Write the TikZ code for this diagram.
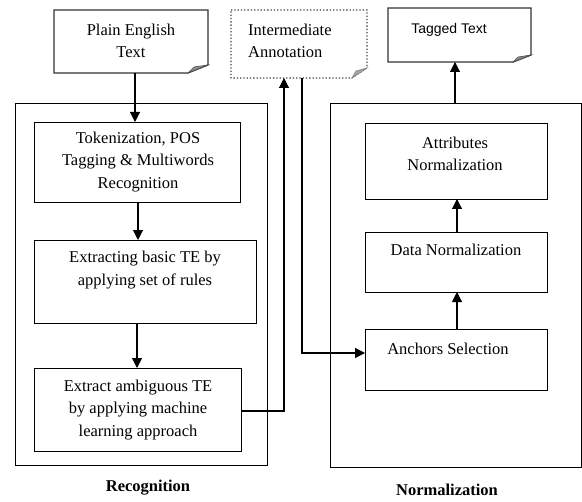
\documentclass[tikz,border=0pt]{standalone}
\usepackage{fontspec}
\setmainfont{Liberation Serif}
\newfontfamily\tagfont{Liberation Sans}
\usetikzlibrary{arrows.meta,positioning,calc}
\tikzset{
  box/.style={draw, line width=1.1bp, rectangle, inner sep=0pt},
  outer/.style={draw, line width=1.1bp, rectangle, inner sep=0pt},
  txt/.style={align=center, inner sep=0pt, font=\fontsize{16.5bp}{22.5bp}\selectfont},
  lbl/.style={inner sep=0pt, font=\fontsize{16.5bp}{22bp}\selectfont\bfseries},
  conn/.style={line width=1.1bp},
  arr/.style={line width=1.1bp, -{Triangle[length=10bp,width=10bp]}},
  doc/.style={line width=1.3bp, draw=black!80},
  fold/.style={fill=black!45, draw=black!70, line width=0.6bp}
}
\begin{document}
\begin{tikzpicture}[x=1bp,y=-1bp]
\useasboundingbox (0,0) rectangle (582,502);

% outer boxes
\node[outer, minimum width=252bp, minimum height=362bp, anchor=north west] (recog) at (15,103) {};
\node[outer, minimum width=251bp, minimum height=364bp, anchor=north west] (norm) at (330,103) {};
\node[lbl] (recoglbl) at (148,488) {Recognition};
\node[lbl] (normlbl) at (447,490) {Normalization};

% documents
\coordinate (pA) at (54,10);
\draw[doc] (54,10) -- (208,10) -- (208,65) -- (188,73) -- (54,73) -- cycle;
\draw[fold] (188,73) -- (194,67) -- (208,65) -- cycle;
\node[txt] (plain) at (131,41) {Plain English\\Text};
\coordinate (plainb) at (135,73);

\draw[doc, dotted, line width=1.1bp, draw=black!75] (231,10) -- (367,10) -- (367,68) -- (352,78) -- (231,78) -- cycle;
\draw[fold, draw=black!50, fill=black!35] (352,78) -- (356,71) -- (367,68) -- cycle;
\node[txt, align=left, anchor=west] (inter) at (248,41) {Intermediate\\Annotation};
\coordinate (interin) at (284,78);
\coordinate (interout) at (302,78);

\draw[doc] (388,8) -- (531,8) -- (531,55) -- (513,62) -- (388,62) -- cycle;
\draw[fold] (513,62) -- (518,57) -- (531,55) -- cycle;
\node[inner sep=0pt, font=\fontsize{14bp}{16bp}\selectfont\tagfont] (tagged) at (449,30) {Tagged Text};
\coordinate (taggedb) at (455,62);

% recognition steps
\node[box, minimum width=206bp, minimum height=80bp, anchor=north west] (tok) at (34,122) {};
\node[txt] (toktxt) at (138,162) {Tokenization, POS\\Tagging \& Multiwords\\Recognition};
\node[box, minimum width=222bp, minimum height=83bp, anchor=north west] (ext) at (34,240) {};
\node[txt] (exttxt) at (145,270) {Extracting basic TE by\\applying set of rules};
\node[box, minimum width=207bp, minimum height=83bp, anchor=north west] (amb) at (34,368) {};
\node[txt] (ambtxt) at (138,410) {Extract ambiguous TE\\by applying machine\\learning approach};

% normalization steps
\node[box, minimum width=182bp, minimum height=76bp, anchor=north west] (attr) at (365,123) {};
\node[txt] (attrtxt) at (455,154) {Attributes\\Normalization};
\node[box, minimum width=182bp, minimum height=60bp, anchor=north west] (data) at (365,232) {};
\node[txt] (datatxt) at (456,250) {Data Normalization};
\node[box, minimum width=182bp, minimum height=61bp, anchor=north west] (anch) at (365,329) {};
\node[txt] (anchtxt) at (448,349) {Anchors Selection};

% connectors
\draw[arr] (plainb) -- (plainb |- tok.north);
\draw[arr] (138,202) -- (138,240);
\draw[arr] (137,323) -- (137,368);
\draw[arr] (amb.east |- 0,411) -| (interin);
\draw[arr] (interout) |- (anch.west |- 0,353);
\draw[arr] (457,329) -- (457,292);
\draw[arr] (457,232) -- (457,199);
\draw[arr] (norm.north -| taggedb) -- (taggedb);
\end{tikzpicture}
\end{document}
